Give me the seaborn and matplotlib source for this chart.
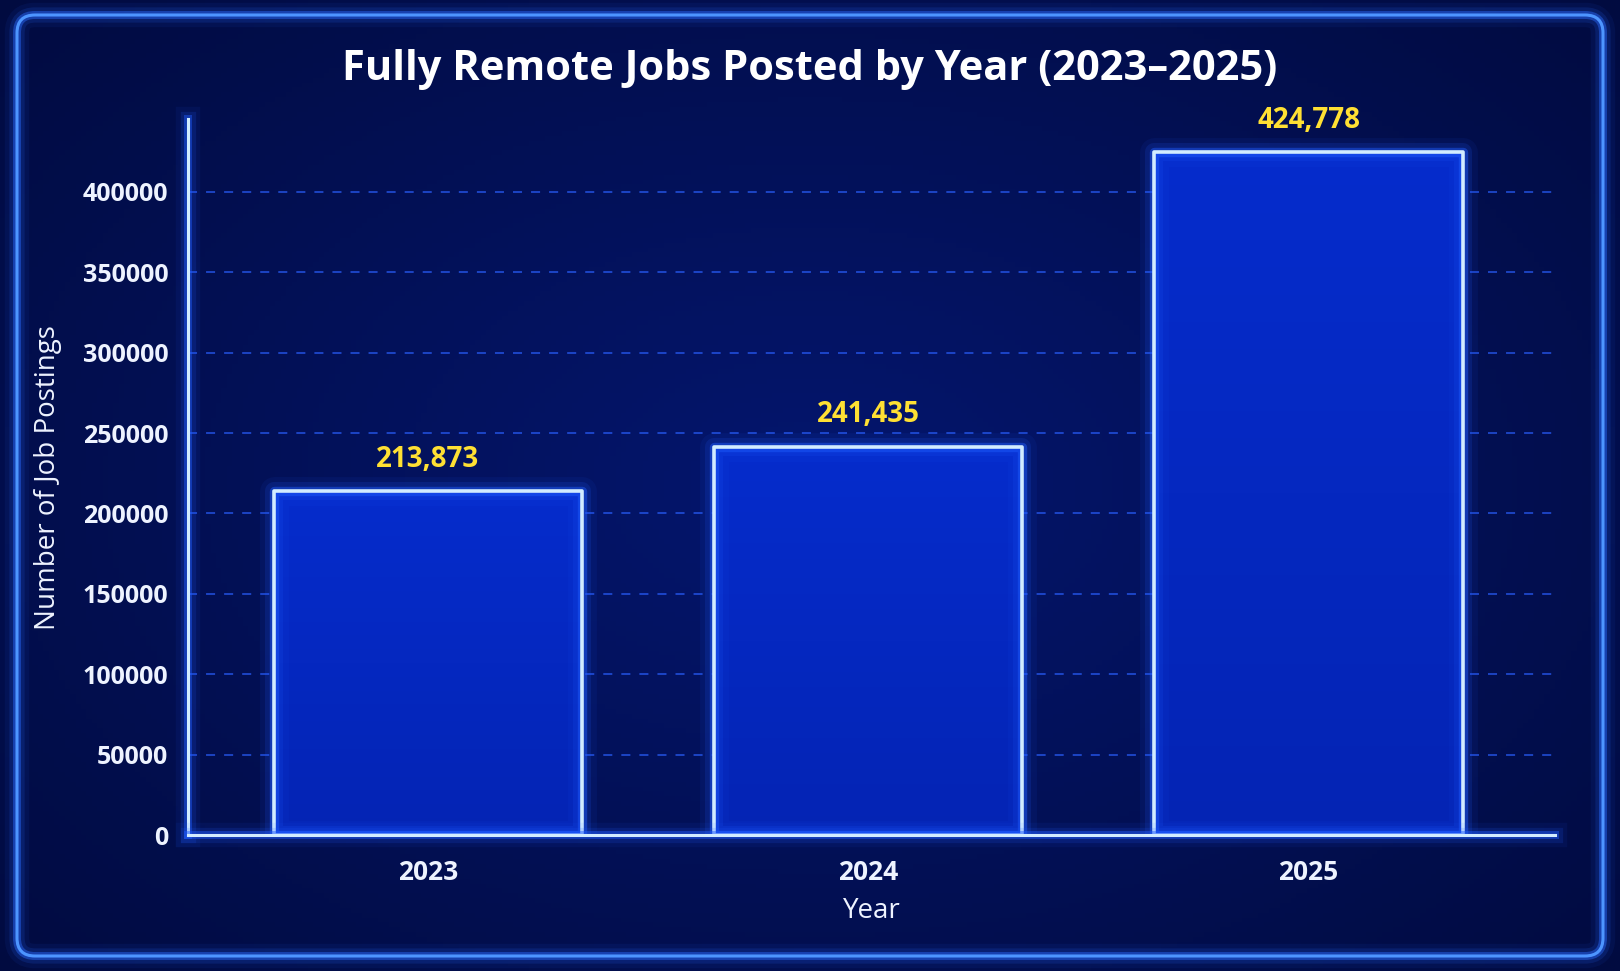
import numpy as np
import matplotlib
matplotlib.use("Agg")
import matplotlib.pyplot as plt
import matplotlib.patheffects as pe
import seaborn as sns
import pandas as pd
from matplotlib.patches import FancyBboxPatch, Rectangle

YEARS = ["2023", "2024", "2025"]
POSTINGS = [213873, 241435, 424778]
Y_TICKS = [0, 50000, 100000, 150000, 200000, 250000, 300000, 350000, 400000]

TITLE = "Fully Remote Jobs Posted by Year (2023\u20132025)"
X_LABEL = "Year"
Y_LABEL = "Number of Job Postings"

W, H = 1620, 971
BG_DARK = "#010a3c"
BG_MID = "#04166e"
BAR_TOP = "#062ccc"
BAR_BOTTOM = "#0424b4"
GLOW = "#1f5cff"
EDGE = "#d2ecff"
TEXT = "#eef3ff"
YELLOW = "#ffe033"
FONT = ["Open Sans", "DejaVu Sans"]


def glow(width, color=GLOW):
    return [
        pe.Stroke(linewidth=width * 8, foreground=color, alpha=0.07),
        pe.Stroke(linewidth=width * 5, foreground=color, alpha=0.15),
        pe.Stroke(linewidth=width * 2.6, foreground=color, alpha=0.45),
        pe.Normal(),
    ]


def main():
    sns.set_theme(style="dark")
    plt.rcParams["font.family"] = FONT

    fig = plt.figure(figsize=(W / 100, H / 100), dpi=100)
    fig.patch.set_facecolor(BG_DARK)

    # background + glowing panel
    bg = fig.add_axes([0, 0, 1, 1], zorder=0)
    bg.set_xlim(0, W)
    bg.set_ylim(0, H)
    bg.axis("off")
    yy, xx = np.mgrid[0:1:200j, 0:1:300j]
    r = np.sqrt(((xx - 0.5) / 0.75) ** 2 + ((yy - 0.5) / 0.8) ** 2)
    c0 = np.array(matplotlib.colors.to_rgb(BG_MID))
    c1 = np.array(matplotlib.colors.to_rgb(BG_DARK))
    t = np.clip(r, 0, 1)[..., None]
    bg.imshow(c0 * (1 - t) + c1 * t, extent=[0, W, 0, H], aspect="auto", zorder=0)
    panel = FancyBboxPatch((17, 15), W - 34, H - 30,
                           boxstyle="round,pad=0,rounding_size=18",
                           fill=False, edgecolor="#4d95ff", lw=2.2, zorder=2)
    panel.set_path_effects(glow(2.2, color="#2a6bff"))
    bg.add_patch(panel)

    ax = fig.add_axes([0.116, 0.140, 0.844, 0.737], zorder=1)
    ax.set_facecolor("none")

    df = pd.DataFrame({"year": YEARS, "postings": POSTINGS})
    sns.barplot(data=df, x="year", y="postings", ax=ax, color=BAR_BOTTOM,
                saturation=1, width=0.7, edgecolor="none", zorder=2)

    # bar outlines with glow, soft gradient inside
    grad = np.linspace(0, 1, 100)[:, None, None]
    grad_rgb = (np.array(matplotlib.colors.to_rgb(BAR_TOP)) * grad
                + np.array(matplotlib.colors.to_rgb(BAR_BOTTOM)) * (1 - grad))
    grad_rgb = np.repeat(grad_rgb, 2, axis=1)
    for p in list(ax.patches):
        x, y = p.get_x(), p.get_y()
        w, h = p.get_width(), p.get_height()
        im = ax.imshow(grad_rgb, extent=[x, x + w, y, y + h], origin="lower",
                       aspect="auto", zorder=2.1)
        im.set_clip_path(p)
        outline = Rectangle((x, y), w, h, fill=False, edgecolor=EDGE, lw=2.6,
                            joinstyle="round", zorder=3)
        outline.set_path_effects(glow(2.6))
        ax.add_patch(outline)
        ax.annotate(f"{int(h):,}", (x + w / 2, h), xytext=(0, 23),
                    textcoords="offset points", ha="center", va="center",
                    color=YELLOW, fontsize=20, fontweight="bold", zorder=4)

    ax.set_xlim(-0.545, 2.56)
    ax.set_ylim(0, 445000)
    ax.set_yticks(Y_TICKS)
    ax.set_yticklabels([str(v) for v in Y_TICKS])

    ax.grid(False)
    ax.yaxis.grid(True, linestyle=(0, (5, 5)), color="#2a60ff", alpha=0.7, lw=1.3, zorder=0)
    ax.set_axisbelow(True)

    for side in ["top", "right"]:
        ax.spines[side].set_visible(False)
    for side in ["left", "bottom"]:
        ax.spines[side].set_visible(True)
        ax.spines[side].set_color(EDGE)
        ax.spines[side].set_linewidth(2.2)
        ax.spines[side].set_path_effects(glow(2.2))
        ax.spines[side].set_zorder(3.5)

    ax.tick_params(axis="y", colors="#3d7dff", length=7, width=1.5, direction="out",
                   labelcolor=TEXT, labelsize=18, pad=7)
    ax.tick_params(axis="x", colors="#3d7dff", length=6, width=1.5, direction="out",
                   labelcolor=TEXT, labelsize=19, pad=11)
    for lbl in ax.get_xticklabels() + ax.get_yticklabels():
        lbl.set_fontweight("bold")

    ax.set_xlabel(X_LABEL, color=TEXT, fontsize=20, labelpad=8)
    ax.set_ylabel(Y_LABEL, color=TEXT, fontsize=20, labelpad=15)

    fig.text(0.5, 1 - 69 / H, TITLE, ha="center", va="center", color="white",
             fontsize=30, fontweight="bold")

    fig.savefig("out.png", dpi=100, facecolor=fig.get_facecolor())


if __name__ == "__main__":
    main()
